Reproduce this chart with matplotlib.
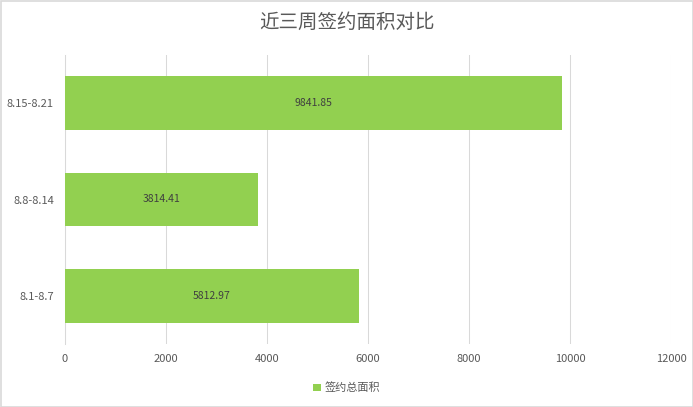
import matplotlib
matplotlib.use("Agg")
import matplotlib.pyplot as plt
from matplotlib.patches import Rectangle

plt.rcParams['font.family'] = ['Noto Sans CJK SC', 'DejaVu Sans']

categories = ["8.1-8.7", "8.8-8.14", "8.15-8.21"]
values = [5812.97, 3814.41, 9841.85]
xticks = [0, 2000, 4000, 6000, 8000, 10000, 12000]
title = "近三周签约面积对比"
series_name = "签约总面积"

bar_color = "#92D050"
text_color = "#595959"
grid_color = "#D9D9D9"

fig = plt.figure(figsize=(6.93, 4.07), dpi=100)
ax = fig.add_axes([65/693, 1-344/407, (671-65)/693, (344-55)/407])

y = list(range(len(categories)))
bars = ax.barh(y, values, height=0.56, color=bar_color, label=series_name, zorder=3)
for yi, v in zip(y, values):
    ax.text(v/2, yi, f"{v:.2f}", ha="center", va="center", fontsize=7.5, color="#404040", zorder=4)

ax.set_xlim(0, 12000)
ax.set_ylim(-0.5, 2.5)
ax.set_xticks(xticks)
ax.set_xticklabels([str(t) for t in xticks])
ax.set_yticks(y)
ax.set_yticklabels(categories)
ax.tick_params(axis='both', length=0, labelsize=8, labelcolor=text_color)
ax.tick_params(axis='x', pad=7)
ax.tick_params(axis='y', pad=8)
ax.xaxis.grid(True, color=grid_color, linewidth=0.75, zorder=0)
for s in ["top", "right", "bottom"]:
    ax.spines[s].set_visible(False)
ax.spines["left"].set_color(grid_color)
ax.spines["left"].set_linewidth(0.75)

fig.text(0.5, 1-22/407, title, ha="center", va="center", fontsize=14, color=text_color)

leg = fig.legend(handles=[bars], labels=[series_name], loc="center", bbox_to_anchor=(0.5, 1-388/407),
                 frameon=False, fontsize=8, handlelength=0.7, handleheight=0.7, handletextpad=0.3)
for t in leg.get_texts():
    t.set_color(text_color)

fig.patches.append(Rectangle((0.5/693, 0.5/407), 1-1/693, 1-1/407, transform=fig.transFigure,
                             fill=False, edgecolor=grid_color, linewidth=1.2))

fig.savefig("out.png", dpi=100, facecolor="white")
